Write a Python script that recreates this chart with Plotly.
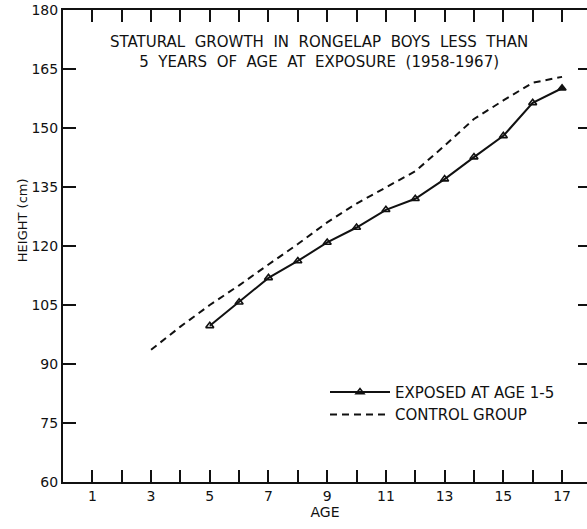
import plotly.graph_objects as go

# ---- data ----
ages_exposed = [5, 6, 7, 8, 9, 10, 11, 12, 13, 14, 15, 16, 17]
height_exposed = [99.7, 105.7, 111.9, 116.2, 120.9, 124.7, 129.2, 132.0, 137.0, 142.6, 148.0, 156.4, 160.1]

ages_control = [3, 4, 5, 6, 7, 8, 9, 10, 11, 12, 13, 14, 15, 16, 17]
height_control = [93.6, 99.5, 105.0, 110.0, 115.3, 120.5, 126.0, 130.8, 134.9, 139.0, 145.5, 152.3, 157.0, 161.5, 163.0]

x_tickvals = list(range(1, 18))
x_ticktext = [str(v) if v % 2 == 1 else "" for v in x_tickvals]
y_tickvals = [60, 75, 90, 105, 120, 135, 150, 165, 180]

title_lines = ["STATURAL&nbsp; GROWTH&nbsp; IN&nbsp; RONGELAP&nbsp; BOYS&nbsp; LESS&nbsp; THAN",
               "5&nbsp; YEARS&nbsp; OF&nbsp; AGE&nbsp; AT&nbsp; EXPOSURE&nbsp; (1958-1967)"]

FONT = "DejaVu Sans"
BLACK = "#111111"

symbols = ["triangle-up-open"] * (len(ages_exposed) - 1) + ["triangle-up"]

fig = go.Figure()
fig.add_trace(go.Scatter(
    x=ages_exposed, y=height_exposed, mode="lines+markers",
    name="EXPOSED AT AGE 1-5",
    line=dict(color=BLACK, width=2),
    marker=dict(symbol=symbols, size=7, color=BLACK, line=dict(color=BLACK, width=1.6)),
))
fig.add_trace(go.Scatter(
    x=ages_control, y=height_control, mode="lines",
    name="CONTROL GROUP",
    line=dict(color=BLACK, width=2, dash="7px,5px"),
))
# invisible trace to carry right-side ticks
fig.add_trace(go.Scatter(x=[], y=[], yaxis="y2", showlegend=False, hoverinfo="skip"))

fig.update_layout(
    width=587, height=529,
    margin=dict(l=63, r=0, t=10, b=47),
    paper_bgcolor="white", plot_bgcolor="white",
    font=dict(family=FONT, color=BLACK, size=14),
    showlegend=True,
    legend=dict(x=0.50, y=0.225, xanchor="left", yanchor="top",
                bgcolor="rgba(0,0,0,0)", font=dict(size=15, family=FONT),
                itemwidth=60, tracegroupgap=0),
    xaxis=dict(
        range=[0, 17.85], tickmode="array", tickvals=x_tickvals, ticktext=x_ticktext,
        ticks="inside", ticklen=12, tickwidth=1.5, tickcolor=BLACK,
        showline=True, linecolor=BLACK, linewidth=2, mirror="ticks",
        showgrid=False, zeroline=False,
        tickfont=dict(size=14),
        title=dict(text="AGE", font=dict(size=14), standoff=4),
    ),
    yaxis=dict(
        range=[60, 180], tickmode="array", tickvals=y_tickvals,
        ticks="inside", ticklen=13, tickwidth=1.5, tickcolor=BLACK,
        showline=True, linecolor=BLACK, linewidth=2,
        showgrid=False, zeroline=False,
        tickfont=dict(size=14),
    ),
    yaxis2=dict(
        range=[60, 180], overlaying="y", side="right", tickmode="array",
        tickvals=y_tickvals, ticks="inside", ticklen=9, tickwidth=1.5, tickcolor=BLACK,
        showticklabels=False, showline=False, showgrid=False, zeroline=False,
    ),
    annotations=[
        dict(text="<br>".join(title_lines), xref="paper", yref="paper",
             x=0.488, y=0.912, xanchor="center", yanchor="middle",
             showarrow=False, align="center",
             font=dict(size=15, family=FONT)),
        dict(text="HEIGHT (cm)", xref="paper", yref="paper",
             x=-0.078, y=0.555, xanchor="center", yanchor="middle",
             showarrow=False, textangle=-90,
             font=dict(size=13, family=FONT)),
    ],
)

fig.write_html("out.html")
